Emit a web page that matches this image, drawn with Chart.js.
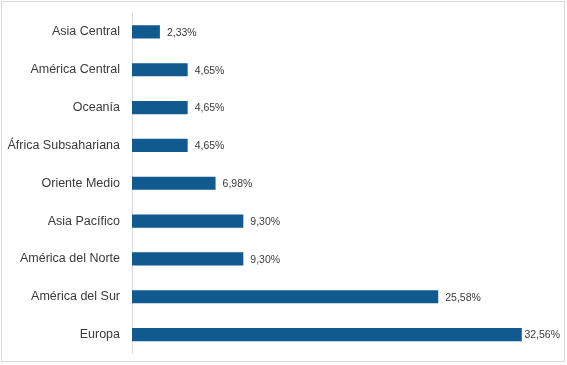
<!DOCTYPE html>
<html>
<head>
    <meta charset="utf-8">
    <title>Regiones</title>
    <script src="https://cdn.jsdelivr.net/npm/chart.js"></script>
    <style>
        html, body { margin: 0; padding: 0; background: #ffffff; }
        #wrap { width: 567px; height: 365px; position: relative; }
    </style>
</head>
<body>
    <div id="wrap">
        <canvas id="myChart" width="567" height="365"></canvas>
    </div>
    <script>
        // data
        var regiones = ['Asia Central', 'América Central', 'Oceanía', 'África Subsahariana',
            'Oriente Medio', 'Asia Pacífico', 'América del Norte', 'América del Sur', 'Europa'];
        var porcentajes = [2.33, 4.65, 4.65, 4.65, 6.98, 9.30, 9.30, 25.58, 32.56];

        var barColor = '#115a8f';
        var textColor = '#3a3a3a';

        // frame round the whole chart
        var framePlugin = {
            id: 'frame',
            beforeDraw: function (chart) {
                var ctx = chart.ctx;
                ctx.save();
                ctx.strokeStyle = '#d9d9d9';
                ctx.lineWidth = 1;
                ctx.strokeRect(1.5, 1.5, 563, 360);
                ctx.restore();
            }
        };

        // value labels at the end of each bar, kept inside the frame
        var labelPlugin = {
            id: 'barLabels',
            afterDatasetsDraw: function (chart) {
                var ctx = chart.ctx;
                var meta = chart.getDatasetMeta(0);
                ctx.save();
                ctx.font = '10.5px "Liberation Sans", Arial, sans-serif';
                ctx.fillStyle = textColor;
                ctx.textAlign = 'left';
                ctx.textBaseline = 'middle';
                meta.data.forEach(function (bar, i) {
                    var txt = porcentajes[i].toFixed(2).replace('.', ',') + '%';
                    var w = ctx.measureText(txt).width;
                    var x = Math.min(bar.x + 7, 560 - w);
                    ctx.fillText(txt, x, bar.y + 1);
                });
                ctx.restore();
            }
        };

        var ctx = document.getElementById('myChart').getContext('2d');
        var chart = new Chart(ctx, {
            type: 'bar',
            data: {
                labels: regiones,
                datasets: [{
                    data: porcentajes,
                    backgroundColor: barColor,
                    borderWidth: 0,
                    barPercentage: 0.7,
                    categoryPercentage: 0.5
                }]
            },
            plugins: [framePlugin, labelPlugin],
            options: {
                indexAxis: 'y',
                responsive: false,
                animation: false,
                layout: {
                    padding: { left: 0, right: 16, top: 13, bottom: 10 }
                },
                plugins: {
                    legend: { display: false },
                    tooltip: { enabled: false }
                },
                scales: {
                    x: {
                        display: false,
                        min: 0,
                        max: 35
                    },
                    y: {
                        afterFit: function (scale) { scale.width = 132; },
                        grid: { display: false },
                        border: { display: true, color: '#d9d9d9', width: 1 },
                        ticks: {
                            padding: 4,
                            color: textColor,
                            font: { family: '"Liberation Sans", Arial, sans-serif', size: 12.5 }
                        }
                    }
                }
            }
        });
    </script>
</body>
</html>
